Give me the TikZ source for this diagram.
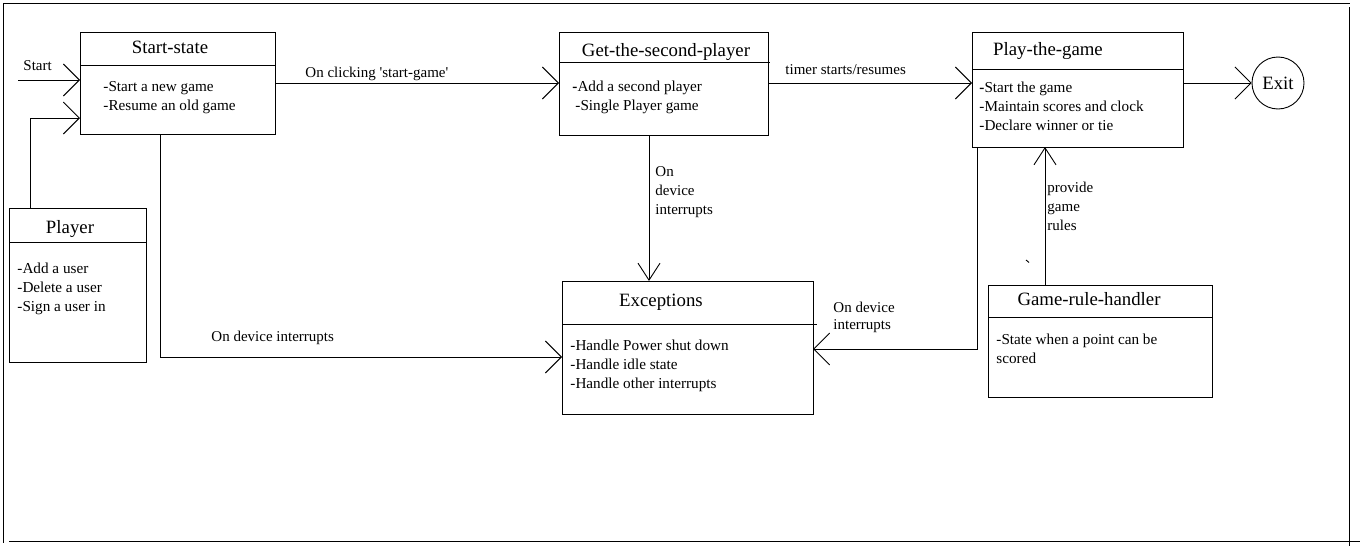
\documentclass[tikz,border=0pt]{standalone}
\usepackage{fontspec}
\setmainfont{Liberation Serif}
\usetikzlibrary{arrows.meta}
\begin{document}
\begin{tikzpicture}[x=1pt,y=-1pt,line width=0.9pt,
  box/.style={draw,rectangle,anchor=north west,inner sep=0pt,outer sep=0pt},
  ttl/.style={font=\fontsize{18.8}{20}\selectfont,anchor=base,inner sep=0pt},
  itm/.style={font=\fontsize{15.2}{19}\selectfont,anchor=base west,inner sep=0pt,align=left},
  lbl/.style={font=\fontsize{15}{19}\selectfont,anchor=base west,inner sep=0pt,align=left},
  arr/.style={-{Straight Barb[length=16pt,width=32pt,line width=0.9pt]}},
  narr/.style={-{Straight Barb[length=17pt,width=22pt,line width=0.9pt]}}
]
\useasboundingbox (0,0) rectangle (1360,546);
% outer frame
\draw (3,3) -- (3,543);
\draw (3,3) -- (1350,3);
\draw (1349,7) -- (1349,546);
\draw (9,541) -- (1360,541);

% boxes
\node[box,minimum width=195pt,minimum height=102pt] (ss) at (80,32) {};
\node[box,minimum width=137pt,minimum height=154pt] (pl) at (9,208) {};
\node[box,minimum width=209pt,minimum height=103pt] (get) at (559,32) {};
\node[box,minimum width=211pt,minimum height=115pt] (play) at (972,32) {};
\node[box,minimum width=251pt,minimum height=133pt] (exc) at (562,281) {};
\node[box,minimum width=224pt,minimum height=112pt] (grh) at (988,285) {};
\node[draw,circle,minimum size=52pt,inner sep=0pt,font=\fontsize{18.8}{20}\selectfont] (exit) at (1278,83) {Exit};

% dividers
\draw (ss.west |- 0,65) -- (ss.east |- 0,65);
\draw (pl.west |- 0,242) -- (pl.east |- 0,242);
\draw (get.west |- 0,62) -- ([xshift=2pt]get.east |- 0,62);
\draw (play.west |- 0,69) -- (play.east |- 0,69);
\draw (exc.west |- 0,324) -- ([xshift=4pt]exc.east |- 0,324);
\draw (grh.west |- 0,317) -- (grh.east |- 0,317);

% titles
\node[ttl] (sst) at (170,53) {Start-state};
\node[ttl] (plt) at (70,233) {Player};
\node[ttl] (gett) at (666,56.5) {Get-the-second-player};
\node[ttl] (playt) at (1048,55) {Play-the-game};
\node[ttl] (exct) at (661,306.5) {Exceptions};
\node[ttl] (grht) at (1089,305) {Game-rule-handler};

% items
\node[itm] (ss1) at (103,91.5) {-Start a new game};
\node[itm] (ss2) at (103,110) {-Resume an old game};
\node[itm] (pl1) at (17,273) {-Add a user};
\node[itm] (pl2) at (17,292) {-Delete a user};
\node[itm] (pl3) at (17,311) {-Sign a user in};
\node[itm] (get1) at (572,91.5) {\textbf{-}Add a second player};
\node[itm] (get2) at (575,110.5) {-Single Player game};
\node[itm] (play1) at (979,92.5) {\textbf{-}Start the game};
\node[itm] (play2) at (979,111.5) {-Maintain scores and clock};
\node[itm] (play3) at (979,130.5) {-Declare winner or tie};
\node[itm] (exc1) at (570,350) {-Handle Power shut down};
\node[itm] (exc2) at (570,369) {-Handle idle state};
\node[itm] (exc3) at (570,388) {-Handle other interrupts};
\node[itm] (grh1) at (996,344) {-State when a point can be};
\node[itm] (grh2) at (996,363) {scored};

% labels
\node[lbl] (lstart) at (23,70) {Start};
\node[lbl] (lclick) at (305,77) {On clicking \textquotesingle start-game\textquotesingle};
\node[lbl] (ltimer) at (785,74) {timer starts/resumes};
\node[lbl] (ldev1) at (211,341) {On device interrupts};
\node[lbl] (ldev2a) at (655,176) {On};
\node[lbl] (ldev2b) at (655,195) {device};
\node[lbl] (ldev2c) at (655,214) {interrupts};
\node[lbl] (ldev3a) at (833,312.5) {On device};
\node[lbl] (ldev3b) at (833,329.5) {interrupts};
\node[lbl] (lrul1) at (1047,192.5) {provide};
\node[lbl] (lrul2) at (1047,211.5) {game};
\node[lbl] (lrul3) at (1047,230.5) {rules};

% connectors
\coordinate (startin) at (18,80);
\draw[arr] (startin) -- (ss.west |- startin);
\draw[arr] ([xshift=21pt]pl.north west) |- (ss.west |- 0,118);
\draw[arr] (ss.east |- 0,83) -- (get.west |- 0,83);
\draw[arr] (ss.south -| 160,0) |- (exc.west |- 0,357);
\draw[narr] (get.south -| 649,0) -- (exc.north -| 649,0);
\draw[arr] (get.east |- 0,83) -- (play.west |- 0,83);
\draw[arr] (play.east |- exit) -- (exit);
\draw[arr] (play.south -| 977,0) |- (exc.east |- 0,349);
\draw[narr] (grh.north -| 1045,0) -- (play.south -| 1045,0);
% stray tick
\draw (1026,260) -- (1029,262.5);
\end{tikzpicture}
\end{document}
